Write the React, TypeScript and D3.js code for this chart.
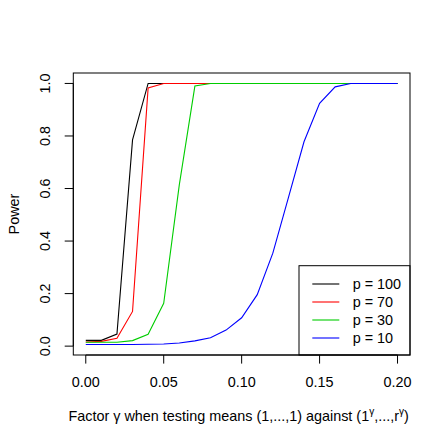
import React from 'react';
import * as d3 from 'd3';

const gammas = [0, 0.01, 0.02, 0.03, 0.04, 0.05, 0.06, 0.07, 0.08, 0.09, 0.1, 0.11, 0.12, 0.13, 0.14, 0.15, 0.16, 0.17, 0.18, 0.19, 0.2];
const power100 = [0.022, 0.022, 0.046, 0.785, 1, 1, 1, 1, 1, 1, 1, 1, 1, 1, 1, 1, 1, 1, 1, 1, 1];
const power70 = [0.016, 0.018, 0.03, 0.132, 0.983, 1, 1, 1, 1, 1, 1, 1, 1, 1, 1, 1, 1, 1, 1, 1, 1];
const power30 = [0.015, 0.015, 0.015, 0.021, 0.045, 0.163, 0.614, 0.99, 1, 1, 1, 1, 1, 1, 1, 1, 1, 1, 1, 1, 1];
const power10 = [0.006, 0.006, 0.006, 0.006, 0.007, 0.008, 0.012, 0.02, 0.032, 0.061, 0.108, 0.196, 0.354, 0.565, 0.778, 0.924, 0.987, 1, 1, 1, 1];
const seriesLabels = ['p = 100', 'p = 70', 'p = 30', 'p = 10'];
const seriesColors = ['#000000', '#FF0000', '#00CD00', '#0000FF'];
const xTicks = [0, 0.05, 0.1, 0.15, 0.2];
const yTicks = [0, 0.2, 0.4, 0.6, 0.8, 1];

const W = 447;
const H = 447;
const box = { left: 73.3, right: 410, top: 73, bottom: 355 };
const font = '"Liberation Sans", Arial, Helvetica, sans-serif';
const fs = 14.4;

export default function App() {
  const series = [power100, power70, power30, power10];
  const all = series.flat();
  const xmin = d3.min(gammas)!, xmax = d3.max(gammas)!;
  const ymin = d3.min(all)!, ymax = d3.max(all)!;
  const xe = (xmax - xmin) * 0.04;
  const ye = (ymax - ymin) * 0.04;
  const x = d3.scaleLinear().domain([xmin - xe, xmax + xe]).range([box.left, box.right]);
  const y = d3.scaleLinear().domain([ymin - ye, ymax + ye]).range([box.bottom, box.top]);
  const line = d3.line<number>().x((_, i) => x(gammas[i])).y((d) => y(d));
  const tickLen = 8.6;
  const legend = { left: 299, top: 265.7, right: box.right, bottom: box.bottom };
  const rowY = [284, 302, 320, 338];

  return (
    <svg width={W} height={H} style={{ position: 'absolute', left: 0, top: 0, background: '#fff' }} fontFamily={font} fontSize={fs}>
      <rect x={0} y={0} width={W} height={H} fill="#fff" />
      {series.map((s, k) => (
        <path key={k} d={line(s)!} fill="none" stroke={seriesColors[k]} strokeWidth={1.1} />
      ))}
      {/* legend */}
      <rect x={legend.left} y={legend.top} width={legend.right - legend.left} height={legend.bottom - legend.top} fill="#fff" stroke="#000" strokeWidth={1} />
      {seriesLabels.map((lab, k) => (
        <g key={k}>
          <line x1={312.3} x2={339.3} y1={rowY[k]} y2={rowY[k]} stroke={seriesColors[k]} strokeWidth={1.1} />
          <text x={352.7} y={rowY[k]} dy="0.36em" fill="#000">{lab}</text>
        </g>
      ))}
      {/* box */}
      <rect x={box.left} y={box.top} width={box.right - box.left} height={box.bottom - box.top} fill="none" stroke="#000" strokeWidth={1} />
      {/* x axis */}
      <line x1={x(xTicks[0])} x2={x(xTicks[xTicks.length - 1])} y1={box.bottom} y2={box.bottom} stroke="#000" />
      {xTicks.map((t) => (
        <g key={t}>
          <line x1={x(t)} x2={x(t)} y1={box.bottom} y2={box.bottom + tickLen} stroke="#000" />
          <text x={x(t)} y={386.5} textAnchor="middle" fill="#000">{d3.format('.2f')(t)}</text>
        </g>
      ))}
      {/* y axis */}
      <line x1={box.left} x2={box.left} y1={y(yTicks[0])} y2={y(yTicks[yTicks.length - 1])} stroke="#000" />
      {yTicks.map((t) => (
        <g key={t}>
          <line x1={box.left - tickLen} x2={box.left} y1={y(t)} y2={y(t)} stroke="#000" />
          <text transform={`translate(49.5,${y(t)}) rotate(-90)`} textAnchor="middle" fill="#000">{d3.format('.1f')(t)}</text>
        </g>
      ))}
      {/* axis titles */}
      <text transform={`translate(18.5,${(box.top + box.bottom) / 2}) rotate(-90)`} textAnchor="middle" fill="#000">Power</text>
      <text x={(box.left + box.right) / 2 - 3} y={421} textAnchor="middle" fill="#000">
        Factor γ when testing means (1,...,1) against (1
        <tspan fontSize={fs * 0.7} dy={-6}>γ</tspan>
        <tspan dy={6}>,...,r</tspan>
        <tspan fontSize={fs * 0.7} dy={-6}>γ</tspan>
        <tspan dy={6}>)</tspan>
      </text>
    </svg>
  );
}
